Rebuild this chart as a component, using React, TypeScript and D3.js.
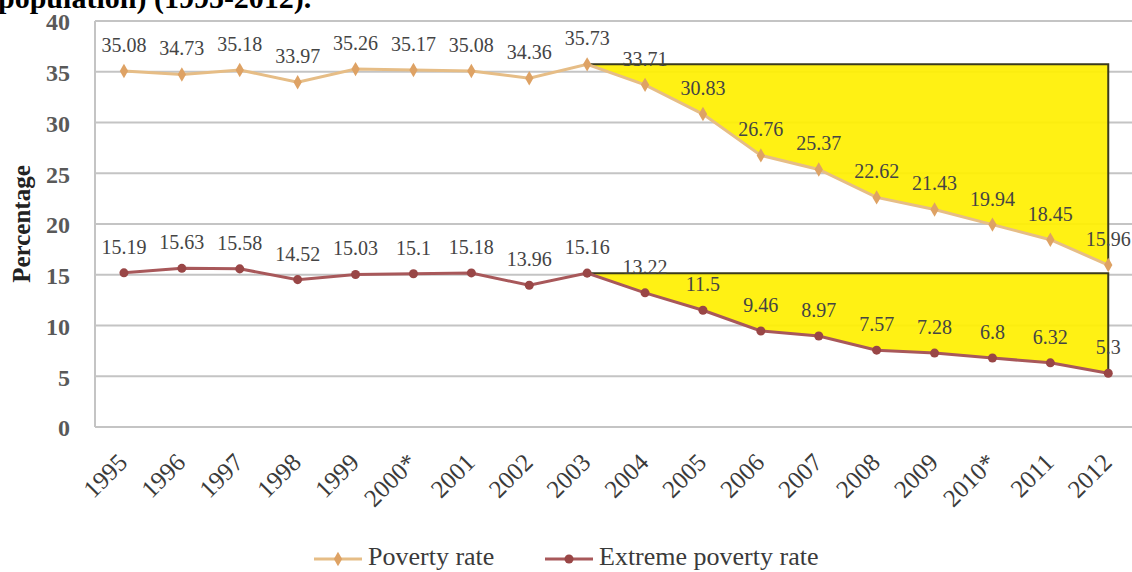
import React, { useEffect, useRef } from "react";
import * as d3 from "d3";

const years = ["1995", "1996", "1997", "1998", "1999", "2000*", "2001", "2002", "2003", "2004", "2005", "2006", "2007", "2008", "2009", "2010*", "2011", "2012"];
const povertyRate = [35.08, 34.73, 35.18, 33.97, 35.26, 35.17, 35.08, 34.36, 35.73, 33.71, 30.83, 26.76, 25.37, 22.62, 21.43, 19.94, 18.45, 15.96];
const extremePovertyRate = [15.19, 15.63, 15.58, 14.52, 15.03, 15.1, 15.18, 13.96, 15.16, 13.22, 11.5, 9.46, 8.97, 7.57, 7.28, 6.8, 6.32, 5.3];
const yTicks = [0, 5, 10, 15, 20, 25, 30, 35, 40];
// the shaded decline starts at this year
const declineStart = "2003";

const W = 1132;
const H = 572;
const SERIF = "'Liberation Serif', 'Times New Roman', serif";

export default function App() {
  const ref = useRef<SVGSVGElement>(null);

  useEffect(() => {
    const svg = d3.select(ref.current);
    svg.selectAll("*").remove();

    const left = 95;
    const step = 57.9;
    const x = d3.scalePoint<string>().domain(years).range([left, left + step * years.length]).padding(0.5);
    const y = d3.scaleLinear().domain([0, 40]).range([427, 21]);

    svg.append("rect").attr("width", W).attr("height", H).attr("fill", "#ffffff");

    // caption line running off the top edge
    svg.append("text")
      .attr("x", -2).attr("y", 8)
      .attr("font-family", SERIF).attr("font-weight", "bold").attr("font-size", 30)
      .attr("fill", "#000")
      .text("population) (1995-2012).");

    // gridlines
    const grid = svg.append("g");
    grid.selectAll("line.g").data(yTicks).join("line")
      .attr("x1", left).attr("x2", W)
      .attr("y1", (d) => y(d)).attr("y2", (d) => y(d))
      .attr("stroke", "#c4c4c4").attr("stroke-width", 2);
    grid.append("line")
      .attr("x1", left).attr("x2", left)
      .attr("y1", y(40)).attr("y2", y(0))
      .attr("stroke", "#c4c4c4").attr("stroke-width", 2);

    // y tick labels
    svg.append("g").selectAll("text").data(yTicks).join("text")
      .attr("x", 70).attr("y", (d) => y(d) + 1)
      .attr("dy", "0.35em")
      .attr("text-anchor", "end")
      .attr("font-family", SERIF).attr("font-size", 24).attr("font-weight", "bold")
      .attr("fill", "#595959")
      .text((d) => String(d));

    // y axis title
    svg.append("text")
      .attr("transform", `translate(30,${(y(40) + y(0)) / 2}) rotate(-90)`)
      .attr("text-anchor", "middle")
      .attr("font-family", SERIF).attr("font-size", 25).attr("font-weight", "bold")
      .attr("fill", "#222")
      .text("Percentage");

    // x tick labels
    svg.append("g").selectAll("text").data(years).join("text")
      .attr("transform", (d) => `translate(${(x(d) as number) + 5},464) rotate(-45)`)
      .attr("text-anchor", "end")
      .attr("font-family", SERIF).attr("font-size", 25)
      .attr("fill", "#3a3a3a")
      .text((d) => d);

    // shaded decline areas
    const startIdx = years.indexOf(declineStart);
    const lastYear = years[years.length - 1];
    const shade = (values: number[]) => {
      const tail = years.slice(startIdx).map((yr, i) => [x(yr) as number, y(values[startIdx + i])] as [number, number]);
      const top = y(values[startIdx]);
      const poly: [number, number][] = [...tail, [x(lastYear) as number, top]];
      svg.append("path")
        .attr("d", d3.line()(poly) + "Z")
        .attr("fill", "#fff000").attr("fill-opacity", 0.92);
      svg.append("path")
        .attr("d", d3.line()([
          [x(declineStart) as number, top],
          [x(lastYear) as number, top],
          [x(lastYear) as number, y(values[values.length - 1])],
        ]))
        .attr("fill", "none").attr("stroke", "#3b3b1e").attr("stroke-width", 2);
    };
    shade(povertyRate);
    shade(extremePovertyRate);

    const series = [
      { values: povertyRate, line: "#e6bd86", marker: "#dea264", shape: d3.symbolDiamond, size: 60 },
      { values: extremePovertyRate, line: "#a8585a", marker: "#994646", shape: d3.symbolCircle, size: 64 },
    ];

    const lineGen = d3.line<number>()
      .x((_, i) => x(years[i]) as number)
      .y((d) => y(d));

    series.forEach((s) => {
      svg.append("path")
        .attr("d", lineGen(s.values))
        .attr("fill", "none").attr("stroke", s.line).attr("stroke-width", 3);
      svg.append("g").selectAll("path").data(s.values).join("path")
        .attr("transform", (d, i) => `translate(${x(years[i])},${y(d)})`)
        .attr("d", d3.symbol().type(s.shape).size(s.size)())
        .attr("fill", s.marker);
      svg.append("g").selectAll("text").data(s.values).join("text")
        .attr("x", (_, i) => x(years[i]) as number)
        .attr("y", (d) => y(d) - 19)
        .attr("text-anchor", "middle")
        .attr("font-family", SERIF).attr("font-size", 20)
        .attr("fill", "#444")
        .text((d) => String(d));
    });

    // legend
    const legend = [
      { label: "Poverty rate", x0: 314, s: series[0] },
      { label: "Extreme poverty rate", x0: 545, s: series[1] },
    ];
    const lg = svg.append("g");
    legend.forEach((l) => {
      lg.append("line")
        .attr("x1", l.x0).attr("x2", l.x0 + 48)
        .attr("y1", 559).attr("y2", 559)
        .attr("stroke", l.s.line).attr("stroke-width", 3);
      lg.append("path")
        .attr("transform", `translate(${l.x0 + 24},559)`)
        .attr("d", d3.symbol().type(l.s.shape).size(l.s.size)())
        .attr("fill", l.s.marker);
      lg.append("text")
        .attr("x", l.x0 + 54).attr("y", 565)
        .attr("font-family", SERIF).attr("font-size", 26)
        .attr("fill", "#3a3a3a")
        .text(l.label);
    });
  }, []);

  return (
    <svg
      ref={ref}
      width={W}
      height={H}
      style={{ position: "absolute", left: 0, top: 0, display: "block" }}
    />
  );
}
